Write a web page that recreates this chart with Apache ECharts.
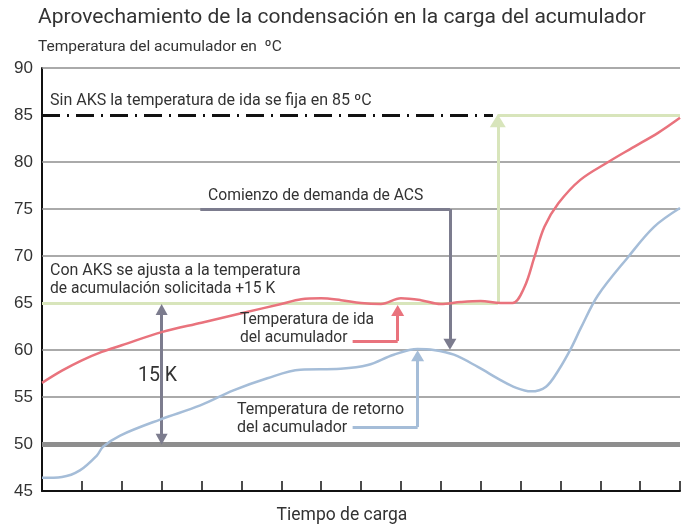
<!DOCTYPE html>
<html>
<head>
<meta charset="utf-8">
<script src="https://cdn.jsdelivr.net/npm/echarts@6/dist/echarts.min.js"></script>
<style>html,body{margin:0;padding:0;background:#fff;}#c{width:683px;height:527px;}</style>
</head>
<body>
<div id="c"></div>
<script>
// ---- data ----
const yMin = 45, yMax = 90, yStep = 5;
const xMin = 0, xMax = 16, xStep = 1;
const gridLevels = [55, 60, 65, 70, 75, 80, 90];
const baseLevel = 50;
const fixedLevel = 85;        // Sin AKS
const aksLevel = 65;          // Con AKS
const switchTime = 11.43;     // green step time
const dashEndTime = 11.31;

const idaTime = [0, 0.5, 1, 1.5, 2, 3, 4, 5, 6, 6.5, 7, 7.5, 8, 8.5, 9, 9.5, 10, 10.5, 11, 11.5, 11.8, 12.1, 12.35, 12.6, 12.95, 13.5, 14.2, 14.8, 15.45, 16];
const idaTemp = [56.5, 57.8, 58.9, 59.8, 60.5, 61.9, 62.9, 63.9, 64.9, 65.4, 65.5, 65.3, 65.0, 64.9, 65.5, 65.3, 64.9, 65.1, 65.2, 65.0, 65.0, 66.7, 69.9, 73.1, 75.6, 78.1, 80.0, 81.5, 83.1, 84.7];

const retornoTime = [0, 0.5, 0.95, 1.38, 1.53, 1.96, 2.96, 3.97, 4.8, 5.65, 6.48, 7.49, 8.17, 8.82, 9.42, 9.82, 10.33, 10.93, 11.5, 11.88, 12.26, 12.64, 12.96, 13.27, 13.52, 13.94, 14.7, 15.35, 16];
const retornoTemp = [46.4, 46.5, 47.2, 48.8, 49.7, 50.9, 52.6, 54.1, 55.7, 57.0, 57.9, 58.0, 58.4, 59.5, 60.1, 60.0, 59.5, 58.2, 56.8, 56.0, 55.6, 56.1, 57.9, 60.2, 62.4, 65.8, 69.9, 73.1, 75.1];

// annotation arrows (time, temp)
const deltaArrow = [[3, 64.3], [3, 50.5]];                 // 15 K
const acsArrow = [[3.97, 75], [10.23, 75], [10.23, 60.6]];  // Comienzo de demanda de ACS
const idaArrow = [[7.79, 60.96], [8.92, 60.96], [8.92, 64.2]];
const retornoArrow = [[7.79, 51.8], [9.42, 51.8], [9.42, 59.4]];

const texts = {
  title: 'Aprovechamiento de la condensación en la carga del acumulador',
  yName: 'Temperatura del acumulador en  ºC',
  xName: 'Tiempo de carga',
  sinAks: 'Sin AKS la temperatura de ida se fija en 85 ºC',
  conAks1: 'Con AKS se ajusta a la temperatura',
  conAks2: 'de acumulación solicitada +15 K',
  acs: 'Comienzo de demanda de ACS',
  ida1: 'Temperatura de ida',
  ida2: 'del acumulador',
  ret1: 'Temperatura de retorno',
  ret2: 'del acumulador',
  delta: '15 K'
};

// ---- colours ----
const cGrid = '#8e8e8e', cRed = '#e9737d', cBlue = '#a5bdd8', cGreen = '#d8e5bb', cDark = '#7c7c8e', cText = '#333333';
const FONT = 'Roboto, "Noto Sans", sans-serif';

function zip(a, b) { return a.map((v, i) => [v, b[i]]); }
function seg(p, q, endSym, startSym, color, width, size) {
  return [
    { coord: p, symbol: startSym || 'none', symbolSize: size, lineStyle: { color: color, width: width, type: 'solid' } },
    { coord: q, symbol: endSym || 'none', symbolSize: size }
  ];
}
function arrowPath(pts, color, width, size) {
  const out = [];
  for (let i = 0; i < pts.length - 1; i++) {
    out.push(seg(pts[i], pts[i + 1], i === pts.length - 2 ? 'triangle' : 'none', 'none', color, width, size));
  }
  return out;
}

const gridMarks = gridLevels.map(v => ({ yAxis: v, lineStyle: { color: cGrid, width: 1.5, type: 'solid' } }));
gridMarks.push({ yAxis: baseLevel, lineStyle: { color: cGrid, width: 5, type: 'solid' } });

const annot = [];
annot.push(seg([xMin, aksLevel], [switchTime, aksLevel], 'none', 'none', cGreen, 3, 10));
annot.push(seg([switchTime, aksLevel], [switchTime, fixedLevel - 0.6], 'triangle', 'none', cGreen, 3, [16, 13]));
annot.push(seg([switchTime, fixedLevel], [xMax, fixedLevel], 'none', 'none', cGreen, 3, 10));
annot.push([
  { coord: [xMin, fixedLevel], symbol: 'none', lineStyle: { color: '#111', width: 3, type: [18, 7, 2, 7] } },
  { coord: [dashEndTime, fixedLevel], symbol: 'none' }
]);
annot.push(seg(deltaArrow[0], deltaArrow[1], 'triangle', 'triangle', cDark, 3, [12, 11]));
arrowPath(acsArrow, cDark, 3, [13, 11]).forEach(s => annot.push(s));
arrowPath(idaArrow, cRed, 3, [13, 11]).forEach(s => annot.push(s));
arrowPath(retornoArrow, cBlue, 3, [13, 11]).forEach(s => annot.push(s));

function txt(x, y, s, size, align) {
  return { type: 'text', x: x, y: y, z: 50, style: { text: s, font: size + 'px ' + FONT, fill: cText, verticalAlign: 'middle', align: align || 'left' } };
}

const chart = echarts.init(document.getElementById('c'));
chart.setOption({
  animation: false,
  backgroundColor: '#fff',
  grid: { left: 42, right: 3, top: 68, bottom: 36, containLabel: false, outerBoundsMode: 'none' },
  xAxis: {
    type: 'value', min: xMin, max: xMax, interval: xStep,
    axisLine: { show: true, lineStyle: { color: '#111', width: 2 } },
    axisTick: { show: true, inside: true, length: 10, lineStyle: { color: '#111', width: 1.5 } },
    axisLabel: { show: false }, splitLine: { show: false }
  },
  yAxis: {
    type: 'value', min: yMin, max: yMax, interval: yStep,
    axisLine: { show: true, onZero: false, lineStyle: { color: '#111', width: 2 } },
    axisTick: { show: false }, splitLine: { show: false },
    axisLabel: { color: cText, fontSize: 17, fontFamily: 'Liberation Sans, Arial, sans-serif', margin: 9, padding: [9, 0, 0, 0] }
  },
  series: [
    { type: 'line', data: [], z: 1, silent: true,
      markLine: { silent: true, symbol: 'none', label: { show: false }, data: gridMarks } },
    { type: 'line', data: [], z: 3, silent: true,
      markLine: { silent: true, label: { show: false }, data: annot } },
    { name: 'ida', type: 'line', data: zip(idaTime, idaTemp), smooth: 0.35, symbol: 'none', z: 5,
      lineStyle: { color: cRed, width: 2.5 } },
    { name: 'retorno', type: 'line', data: zip(retornoTime, retornoTemp), smooth: 0.35, symbol: 'none', z: 5,
      lineStyle: { color: cBlue, width: 2.5 } }
  ],
  graphic: [
    txt(38, 18, texts.title, 21),
    txt(38, 47, texts.yName, 15.5),
    txt(50, 101, texts.sinAks, 16),
    txt(208, 196, texts.acs, 15.7),
    txt(50, 271, texts.conAks1, 16),
    txt(50, 289, texts.conAks2, 15.6),
    txt(240, 320, texts.ida1, 15.6),
    txt(240, 338, texts.ida2, 15.6),
    txt(138, 376, texts.delta, 19.5),
    txt(237, 410, texts.ret1, 16),
    txt(237, 428, texts.ret2, 16),
    txt(342, 516, texts.xName, 17.5, 'center')
  ]
});
</script>
</body>
</html>
